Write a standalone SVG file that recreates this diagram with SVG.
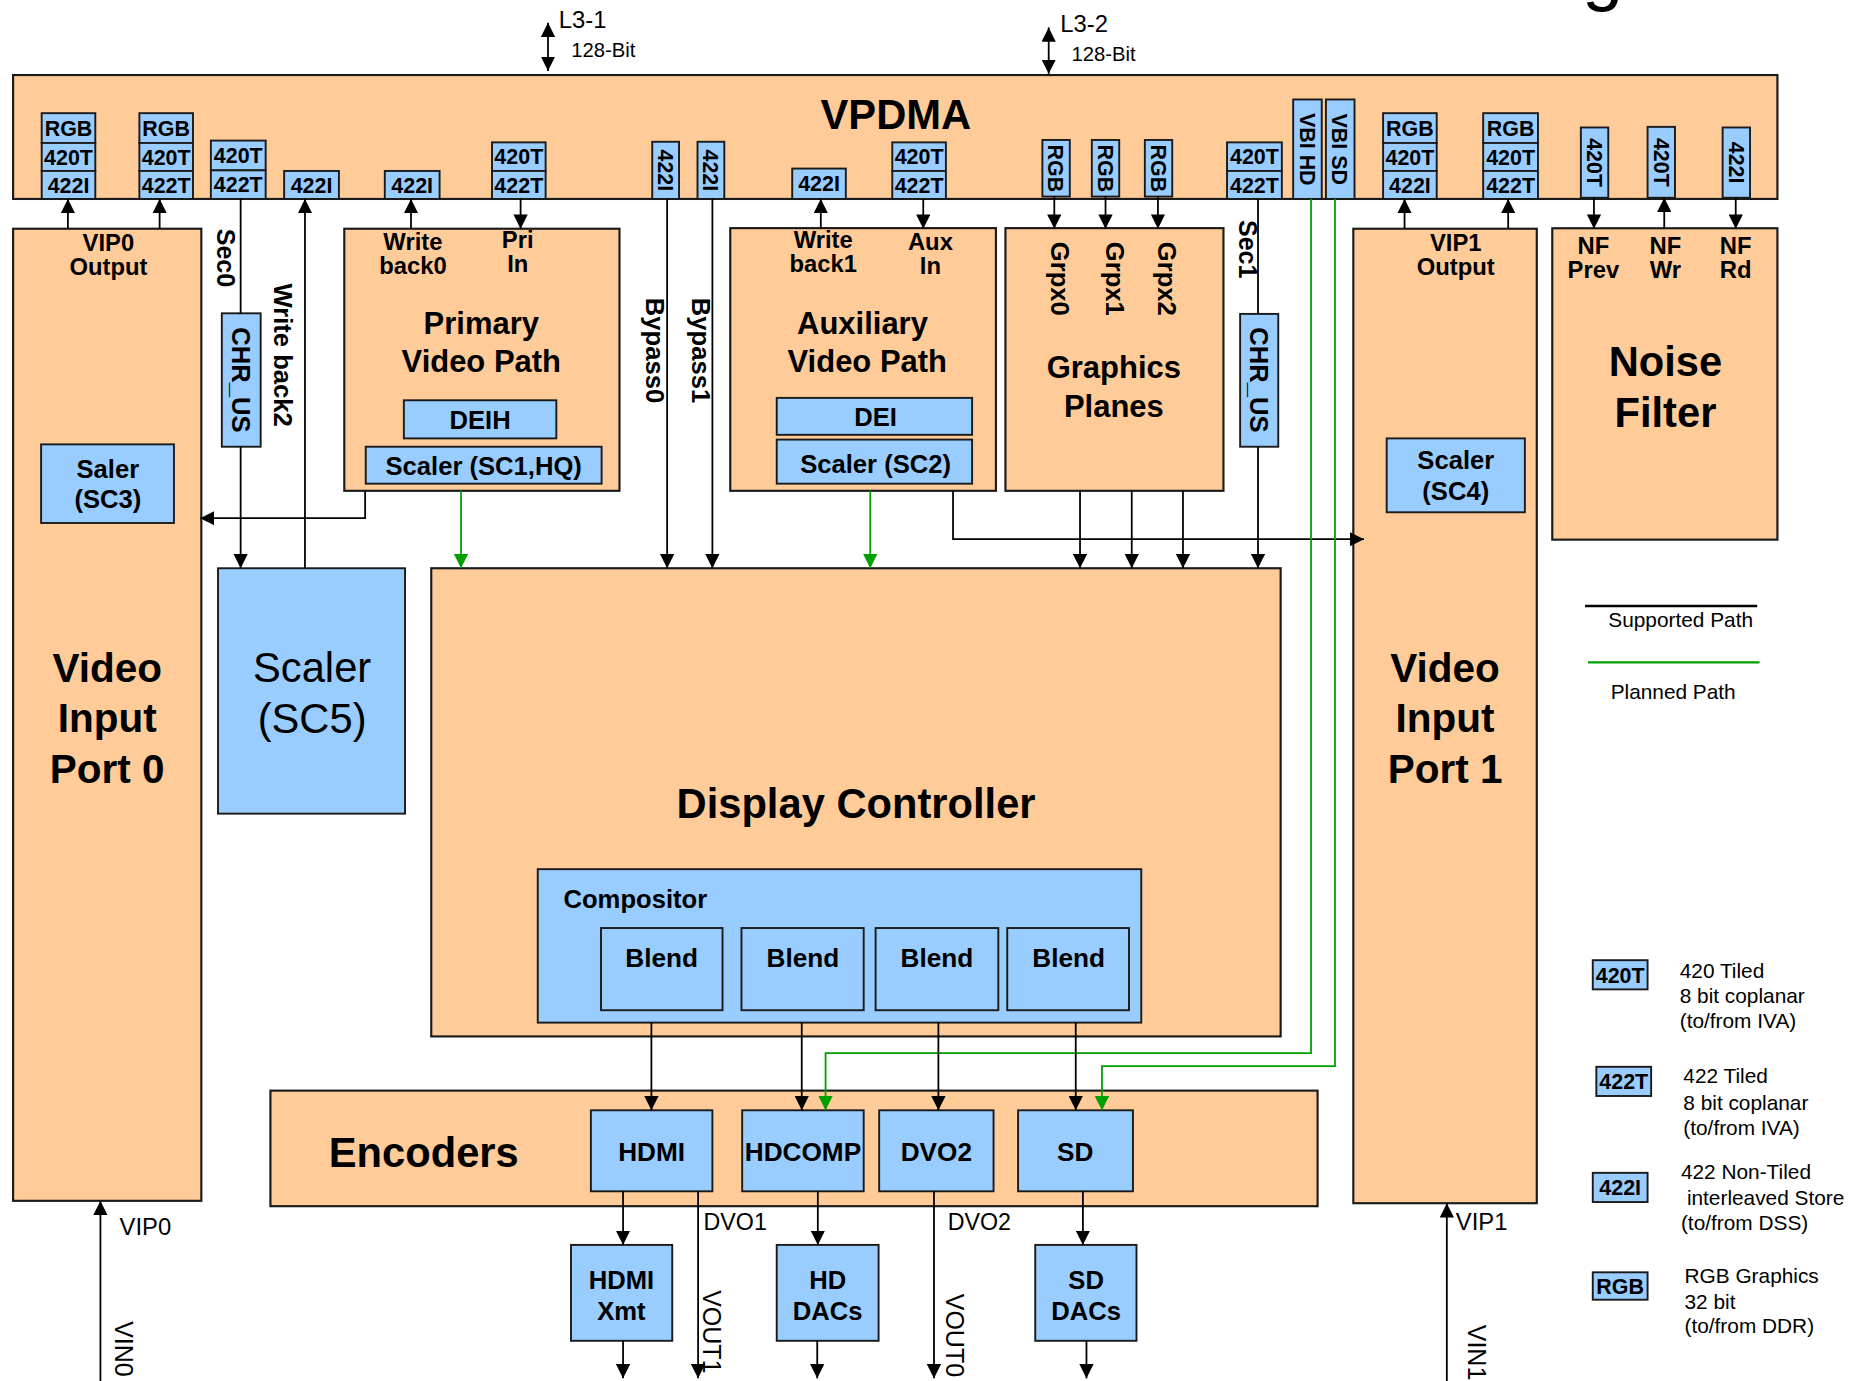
<svg xmlns="http://www.w3.org/2000/svg" width="1868" height="1381" viewBox="0 0 1868 1381">
<style>
.pe{fill:#FFCC99;stroke:#1a1a1a;stroke-width:1.8}
.bl{fill:#99CCFF;stroke:#1a1a1a;stroke-width:1.6}
.b{font-family:"Liberation Sans",Arial,sans-serif;font-weight:bold;fill:#000}
.r{font-family:"Liberation Sans",Arial,sans-serif;fill:#000}
.m{text-anchor:middle}
.f{font-size:18px}
.t{font-size:20px}
.ln{fill:none;stroke:#000;stroke-width:1.5}
.gn{fill:none;stroke:#00A000;stroke-width:1.5}
.ar{marker-end:url(#ah)}
.ga{marker-end:url(#gh)}
.lg{font-size:17.5px}
</style>
<defs>
<marker id="ah" markerUnits="userSpaceOnUse" markerWidth="12" markerHeight="12" refX="12" refY="6" orient="auto"><path d="M0,0 L12,6 L0,12 z" fill="#000"/></marker>
<marker id="ahs" markerUnits="userSpaceOnUse" markerWidth="12" markerHeight="12" refX="12" refY="6" orient="auto-start-reverse"><path d="M0,0 L12,6 L0,12 z" fill="#000"/></marker>
<marker id="gh" markerUnits="userSpaceOnUse" markerWidth="12" markerHeight="12" refX="12" refY="6" orient="auto"><path d="M0,0 L12,6 L0,12 z" fill="#00A000"/></marker>
</defs>
<rect width="1868" height="1381" fill="#fff"/>
<g transform="scale(1.1913)">

<g id="title-fragment"><text class="r" x="1328" y="-2.5" font-size="62">g</text></g>

<g id="bus-labels">
<text class="r" x="469" y="23.5" font-size="20">L3-1</text>
<text class="r" x="479.5" y="48" font-size="17">128-Bit</text>
<text class="r" x="890" y="27" font-size="20">L3-2</text>
<text class="r" x="899.5" y="51.5" font-size="17">128-Bit</text>
</g>

<g id="vpdma">
<rect class="pe" x="11" y="63" width="1481" height="104"/>
<text class="b m" x="752" y="108" font-size="35">VPDMA</text>
<g id="fmt-vip0-a">
<rect class="bl" x="35" y="95" width="45" height="25"/><text class="b m f" x="57.5" y="114.5">RGB</text>
<rect class="bl" x="35" y="120" width="45" height="23.5"/><text class="b m f" x="57.5" y="138.5">420T</text>
<rect class="bl" x="35" y="143.5" width="45" height="23.5"/><text class="b m f" x="57.5" y="162">422I</text>
</g>
<g id="fmt-vip0-b">
<rect class="bl" x="117" y="95" width="45" height="25"/><text class="b m f" x="139.5" y="114.5">RGB</text>
<rect class="bl" x="117" y="120" width="45" height="23.5"/><text class="b m f" x="139.5" y="138.5">420T</text>
<rect class="bl" x="117" y="143.5" width="45" height="23.5"/><text class="b m f" x="139.5" y="162">422T</text>
</g>
<g id="fmt-sec0">
<rect class="bl" x="177" y="118" width="46" height="25"/><text class="b m f" x="200" y="137">420T</text>
<rect class="bl" x="177" y="143" width="46" height="24"/><text class="b m f" x="200" y="161.5">422T</text>
</g>
<g id="fmt-wb2"><rect class="bl" x="238.5" y="143.5" width="46" height="23.5"/><text class="b m f" x="261.5" y="162">422I</text></g>
<g id="fmt-wb0"><rect class="bl" x="323" y="143.5" width="46" height="23.5"/><text class="b m f" x="346" y="162">422I</text></g>
<g id="fmt-pri">
<rect class="bl" x="413" y="119.5" width="45" height="24"/><text class="b m f" x="435.5" y="138">420T</text>
<rect class="bl" x="413" y="143.5" width="45" height="23.5"/><text class="b m f" x="435.5" y="162">422T</text>
</g>
<g id="fmt-bypass0"><rect class="bl" x="547.5" y="119" width="22.5" height="48"/><text class="b m f" x="552.2" y="143" transform="rotate(90 552.2 143)">422I</text></g>
<g id="fmt-bypass1"><rect class="bl" x="585.5" y="119" width="22.5" height="48"/><text class="b m f" x="590.2" y="143" transform="rotate(90 590.2 143)">422I</text></g>
<g id="fmt-wb1"><rect class="bl" x="665" y="141.5" width="45" height="25.5"/><text class="b m f" x="687.5" y="160.7">422I</text></g>
<g id="fmt-aux">
<rect class="bl" x="749" y="119.5" width="45" height="24"/><text class="b m f" x="771.5" y="138">420T</text>
<rect class="bl" x="749" y="143.5" width="45" height="23.5"/><text class="b m f" x="771.5" y="162">422T</text>
</g>
<g id="fmt-grpx0"><rect class="bl" x="875" y="117.5" width="23" height="47.5"/><text class="b m f" x="880" y="141.3" transform="rotate(90 880 141.3)">RGB</text></g>
<g id="fmt-grpx1"><rect class="bl" x="916.5" y="117.5" width="23" height="47.5"/><text class="b m f" x="921.5" y="141.3" transform="rotate(90 921.5 141.3)">RGB</text></g>
<g id="fmt-grpx2"><rect class="bl" x="961" y="117.5" width="23" height="47.5"/><text class="b m f" x="966" y="141.3" transform="rotate(90 966 141.3)">RGB</text></g>
<g id="fmt-sec1">
<rect class="bl" x="1030" y="119.5" width="46" height="24"/><text class="b m f" x="1053" y="138">420T</text>
<rect class="bl" x="1030" y="143.5" width="46" height="23.5"/><text class="b m f" x="1053" y="162">422T</text>
</g>
<g id="fmt-vbi-hd"><rect class="bl" x="1085.5" y="83.5" width="24" height="83.5"/><text class="b m f" x="1091" y="125.3" transform="rotate(90 1091 125.3)">VBI HD</text></g>
<g id="fmt-vbi-sd"><rect class="bl" x="1113" y="83.5" width="24" height="83.5"/><text class="b m f" x="1118.5" y="125.3" transform="rotate(90 1118.5 125.3)">VBI SD</text></g>
<g id="fmt-vip1-a">
<rect class="bl" x="1161" y="95" width="45" height="25"/><text class="b m f" x="1183.5" y="114.5">RGB</text>
<rect class="bl" x="1161" y="120" width="45" height="23.5"/><text class="b m f" x="1183.5" y="138.5">420T</text>
<rect class="bl" x="1161" y="143.5" width="45" height="23.5"/><text class="b m f" x="1183.5" y="162">422I</text>
</g>
<g id="fmt-vip1-b">
<rect class="bl" x="1245" y="95" width="46" height="25"/><text class="b m f" x="1268" y="114.5">RGB</text>
<rect class="bl" x="1245" y="120" width="46" height="23.5"/><text class="b m f" x="1268" y="138.5">420T</text>
<rect class="bl" x="1245" y="143.5" width="46" height="23.5"/><text class="b m f" x="1268" y="162">422T</text>
</g>
<g id="fmt-nf-prev"><rect class="bl" x="1327" y="107" width="23" height="59"/><text class="b m f" x="1332" y="136.5" transform="rotate(90 1332 136.5)">420T</text></g>
<g id="fmt-nf-wr"><rect class="bl" x="1383" y="106.5" width="23" height="59.5"/><text class="b m f" x="1388" y="136.3" transform="rotate(90 1388 136.3)">420T</text></g>
<g id="fmt-nf-rd"><rect class="bl" x="1446" y="107" width="23" height="59"/><text class="b m f" x="1451" y="136.5" transform="rotate(90 1451 136.5)">422I</text></g>
</g>

<g id="vip0">
<rect class="pe" x="11" y="192" width="158" height="816"/>
<text class="b m t" x="91" y="210.5">VIP0</text>
<text class="b m t" x="91" y="230.5">Output</text>
<text class="b m" x="90" y="572.5" font-size="34">Video</text>
<text class="b m" x="90" y="614.5" font-size="34">Input</text>
<text class="b m" x="90" y="657" font-size="34">Port 0</text>
<g id="saler-sc3">
<rect class="bl" x="34.5" y="373" width="111.5" height="66"/>
<text class="b m" x="90.5" y="401" font-size="21.5">Saler</text>
<text class="b m" x="90.5" y="426.6" font-size="21.5">(SC3)</text>
</g>
</g>

<g id="path-labels">
<text class="b" x="182" y="192" font-size="21" transform="rotate(90 182 192)">Sec0</text>
<text class="b" x="230" y="238" font-size="21.5" transform="rotate(90 230 238)">Write back2</text>
<text class="b" x="542.6" y="250" font-size="21.5" transform="rotate(90 542.6 250)">Bypass0</text>
<text class="b" x="580.6" y="250" font-size="21.5" transform="rotate(90 580.6 250)">Bypass1</text>
<text class="b" x="1040" y="184.7" font-size="21" transform="rotate(90 1040 184.7)">Sec1</text>
</g>

<g id="chr-us-0">
<rect class="bl" x="186.2" y="263" width="32.6" height="112"/>
<text class="b m" x="194.8" y="319" font-size="21.5" transform="rotate(90 194.8 319)">CHR_US</text>
</g>

<g id="scaler-sc5">
<rect class="bl" x="183" y="477" width="157" height="206"/>
<text class="r m" x="262" y="572.5" font-size="35">Scaler</text>
<text class="r m" x="262" y="615" font-size="35">(SC5)</text>
</g>

<g id="primary-video-path">
<rect class="pe" x="289" y="192" width="231" height="220"/>
<text class="b m t" x="346.6" y="209.5">Write</text>
<text class="b m t" x="346.6" y="230">back0</text>
<text class="b m t" x="434.6" y="208.5">Pri</text>
<text class="b m t" x="434.6" y="228.5">In</text>
<text class="b m" x="404" y="280" font-size="26">Primary</text>
<text class="b m" x="404" y="312" font-size="26">Video Path</text>
<g id="deih"><rect class="bl" x="339" y="336" width="128" height="32"/><text class="b m" x="403" y="360" font-size="21.5">DEIH</text></g>
<g id="scaler-sc1"><rect class="bl" x="307" y="375" width="198" height="31"/><text class="b m" x="406" y="398.5" font-size="21.5">Scaler (SC1,HQ)</text></g>
</g>

<g id="auxiliary-video-path">
<rect class="pe" x="613" y="191.5" width="223" height="220.5"/>
<text class="b m t" x="691" y="208">Write</text>
<text class="b m t" x="691" y="228.5">back1</text>
<text class="b m t" x="781" y="209.5">Aux</text>
<text class="b m t" x="781" y="230">In</text>
<text class="b m" x="724" y="280" font-size="26">Auxiliary</text>
<text class="b m" x="728" y="312" font-size="26">Video Path</text>
<g id="dei"><rect class="bl" x="652" y="334" width="164" height="31"/><text class="b m" x="735" y="358" font-size="21.5">DEI</text></g>
<g id="scaler-sc2"><rect class="bl" x="652" y="369" width="164" height="37"/><text class="b m" x="735" y="397" font-size="21.5">Scaler (SC2)</text></g>
</g>

<g id="graphics-planes">
<rect class="pe" x="844" y="191.5" width="183" height="220.5"/>
<text class="b" x="882.5" y="203" font-size="21.5" transform="rotate(90 882.5 203)">Grpx0</text>
<text class="b" x="928" y="203" font-size="21.5" transform="rotate(90 928 203)">Grpx1</text>
<text class="b" x="972.4" y="203" font-size="21.5" transform="rotate(90 972.4 203)">Grpx2</text>
<text class="b m" x="935" y="317.5" font-size="26">Graphics</text>
<text class="b m" x="935" y="350" font-size="26">Planes</text>
</g>

<g id="chr-us-1">
<rect class="bl" x="1041" y="263.5" width="32" height="111.5"/>
<text class="b m" x="1049.3" y="319" font-size="21.5" transform="rotate(90 1049.3 319)">CHR_US</text>
</g>

<g id="vip1">
<rect class="pe" x="1136" y="192" width="154" height="818"/>
<text class="b m t" x="1222" y="210.8">VIP1</text>
<text class="b m t" x="1222" y="231">Output</text>
<g id="scaler-sc4">
<rect class="bl" x="1164" y="368" width="116" height="62"/>
<text class="b m" x="1222" y="394" font-size="21.5">Scaler</text>
<text class="b m" x="1222" y="420" font-size="21.5">(SC4)</text>
</g>
<text class="b m" x="1213" y="572.5" font-size="34">Video</text>
<text class="b m" x="1213" y="614.5" font-size="34">Input</text>
<text class="b m" x="1213" y="657" font-size="34">Port 1</text>
</g>

<g id="noise-filter">
<rect class="pe" x="1303" y="191.6" width="189" height="261.4"/>
<text class="b m t" x="1337.5" y="213.5">NF</text>
<text class="b m t" x="1337.5" y="233.6">Prev</text>
<text class="b m t" x="1398" y="213.5">NF</text>
<text class="b m t" x="1398" y="233.6">Wr</text>
<text class="b m t" x="1457" y="213.5">NF</text>
<text class="b m t" x="1457" y="233.6">Rd</text>
<text class="b m" x="1398" y="315.5" font-size="35">Noise</text>
<text class="b m" x="1398" y="358.5" font-size="35">Filter</text>
</g>

<g id="display-controller">
<rect class="pe" x="362" y="477" width="713" height="393"/>
<text class="b m" x="718.6" y="687" font-size="35">Display Controller</text>
<g id="compositor">
<rect class="bl" x="451.4" y="729.6" width="506.6" height="128.8"/>
<text class="b" x="473" y="762" font-size="21.5">Compositor</text>
<g id="blend-0"><rect class="bl" x="504.5" y="779" width="102" height="69"/><text class="b m" x="555.4" y="812" font-size="22">Blend</text></g>
<g id="blend-1"><rect class="bl" x="622.4" y="779" width="102.6" height="69"/><text class="b m" x="674" y="812" font-size="22">Blend</text></g>
<g id="blend-2"><rect class="bl" x="735" y="779" width="103" height="69"/><text class="b m" x="786.5" y="812" font-size="22">Blend</text></g>
<g id="blend-3"><rect class="bl" x="845.5" y="779" width="102.2" height="69"/><text class="b m" x="897" y="812" font-size="22">Blend</text></g>
</g>
</g>

<g id="encoders">
<rect class="pe" x="227" y="915.5" width="879" height="97"/>
<text class="b" x="276" y="979.6" font-size="35">Encoders</text>
<g id="enc-hdmi"><rect class="bl" x="496" y="932" width="102" height="68"/><text class="b m" x="547" y="974.5" font-size="22">HDMI</text></g>
<g id="enc-hdcomp"><rect class="bl" x="623" y="932" width="102" height="68"/><text class="b m" x="674" y="974.5" font-size="22">HDCOMP</text></g>
<g id="enc-dvo2"><rect class="bl" x="738" y="932" width="96" height="68"/><text class="b m" x="786" y="974.5" font-size="22">DVO2</text></g>
<g id="enc-sd"><rect class="bl" x="854.6" y="932" width="96.4" height="68"/><text class="b m" x="902.6" y="974.5" font-size="22">SD</text></g>
</g>

<g id="hdmi-xmt"><rect class="bl" x="479.3" y="1045" width="85" height="80.5"/><text class="b m" x="521.6" y="1082" font-size="21.5">HDMI</text><text class="b m" x="521.6" y="1108" font-size="21.5">Xmt</text></g>
<g id="hd-dacs"><rect class="bl" x="652" y="1045" width="85.5" height="80.5"/><text class="b m" x="694.8" y="1082" font-size="21.5">HD</text><text class="b m" x="694.8" y="1108" font-size="21.5">DACs</text></g>
<g id="sd-dacs"><rect class="bl" x="869" y="1045" width="85" height="80.5"/><text class="b m" x="911.7" y="1082" font-size="21.5">SD</text><text class="b m" x="911.7" y="1108" font-size="21.5">DACs</text></g>

<g id="io-labels">
<text class="r" x="100.4" y="1036.5" font-size="20">VIP0</text>
<text class="r" x="1222" y="1032.6" font-size="20">VIP1</text>
<text class="r" x="590.6" y="1032.6" font-size="19.5">DVO1</text>
<text class="r" x="795.6" y="1032.6" font-size="19.5">DVO2</text>
<text class="r" x="590" y="1083" font-size="21" transform="rotate(90 590 1083)">VOUT1</text>
<text class="r" x="794.5" y="1086" font-size="21" transform="rotate(90 794.5 1086)">VOUT0</text>
<text class="r" x="96.5" y="1109" font-size="21" transform="rotate(90 96.5 1109)">VIN0</text>
<text class="r" x="1232.5" y="1112" font-size="21" transform="rotate(90 1232.5 1112)">VIN1</text>
</g>

<g id="connectors">
<path class="ln" d="M460,19 V59.5" marker-start="url(#ahs)" marker-end="url(#ahs)"/>
<path class="ln" d="M880.3,23 V62" marker-start="url(#ahs)" marker-end="url(#ahs)"/>
<path class="ln ar" d="M57,192 V167"/>
<path class="ln ar" d="M134,192 V167"/>
<path class="ln" d="M202,167 V263"/>
<path class="ln ar" d="M202,375 V477"/>
<path class="ln ar" d="M256,477 V167"/>
<path class="ln ar" d="M345,192 V167"/>
<path class="ln ar" d="M437,167 V192"/>
<path class="ln ar" d="M306.5,412 V435 H168"/>
<path class="gn ga" d="M387,412 V477"/>
<path class="ln ar" d="M560,167 V477"/>
<path class="ln ar" d="M598,167 V477"/>
<path class="ln ar" d="M689,192 V167"/>
<path class="ln ar" d="M775,167 V192"/>
<path class="gn ga" d="M730.5,412 V477"/>
<path class="ln ar" d="M800,412 V452.6 H1145"/>
<path class="ln ar" d="M885,165 V192"/>
<path class="ln ar" d="M928,165 V192"/>
<path class="ln ar" d="M972,165 V192"/>
<path class="ln ar" d="M906.6,412 V477"/>
<path class="ln ar" d="M950,412 V477"/>
<path class="ln ar" d="M993,412 V477"/>
<path class="ln" d="M1056,167 V263.5"/>
<path class="ln ar" d="M1056,375 V477"/>
<path class="gn ga" d="M1100.5,167 V884 H693 V932"/>
<path class="gn ga" d="M1120.6,167 V895 H925 V932"/>
<path class="ln ar" d="M1179,192 V167"/>
<path class="ln ar" d="M1266,192 V167"/>
<path class="ln ar" d="M1338,166 V192"/>
<path class="ln ar" d="M1397,192 V166"/>
<path class="ln ar" d="M1457,166 V192"/>
<path class="ln ar" d="M546.8,858.4 V932"/>
<path class="ln ar" d="M673,858.4 V932"/>
<path class="ln ar" d="M787.7,858.4 V932"/>
<path class="ln ar" d="M903,858.4 V932"/>
<path class="ln ar" d="M523,1000 V1045"/>
<path class="ln ar" d="M586,1000 V1157"/>
<path class="ln ar" d="M686.5,1000 V1045"/>
<path class="ln ar" d="M784,1000 V1157"/>
<path class="ln ar" d="M909,1000 V1045"/>
<path class="ln ar" d="M523,1125.5 V1157"/>
<path class="ln ar" d="M686,1125.5 V1157"/>
<path class="ln ar" d="M912,1125.5 V1157"/>
<path class="ln ar" d="M84.3,1170 V1008"/>
<path class="ln ar" d="M1214.5,1170 V1010"/>
</g>

<g id="legend">
<path d="M1330.5,508.7 H1475" stroke="#000" stroke-width="2"/>
<text class="r lg" x="1350" y="526">Supported Path</text>
<path d="M1333,556 H1477" stroke="#00A000" stroke-width="2"/>
<text class="r lg" x="1352" y="587">Planned Path</text>
<g id="legend-420t"><rect class="bl" x="1337" y="806" width="46" height="24.5"/><text class="b m f" x="1360" y="824.8">420T</text>
<text class="r lg" x="1410" y="821">420 Tiled</text><text class="r lg" x="1410" y="842">8 bit coplanar</text><text class="r lg" x="1410" y="863">(to/from IVA)</text></g>
<g id="legend-422t"><rect class="bl" x="1340" y="895.5" width="46" height="24.5"/><text class="b m f" x="1363" y="914.3">422T</text>
<text class="r lg" x="1413" y="909">422 Tiled</text><text class="r lg" x="1413" y="931.7">8 bit coplanar</text><text class="r lg" x="1413" y="952.8">(to/from IVA)</text></g>
<g id="legend-422i"><rect class="bl" x="1337" y="984.5" width="46" height="24.5"/><text class="b m f" x="1360" y="1003.3">422I</text>
<text class="r lg" x="1411" y="990">422 Non-Tiled</text><text class="r lg" x="1416" y="1011.5">interleaved Store</text><text class="r lg" x="1411" y="1032.6">(to/from DSS)</text></g>
<g id="legend-rgb"><rect class="bl" x="1337" y="1068" width="46" height="23"/><text class="b m f" x="1360" y="1086">RGB</text>
<text class="r lg" x="1414" y="1077">RGB Graphics</text><text class="r lg" x="1414" y="1099">32 bit</text><text class="r lg" x="1414" y="1119">(to/from DDR)</text></g>
</g>

</g>
</svg>
